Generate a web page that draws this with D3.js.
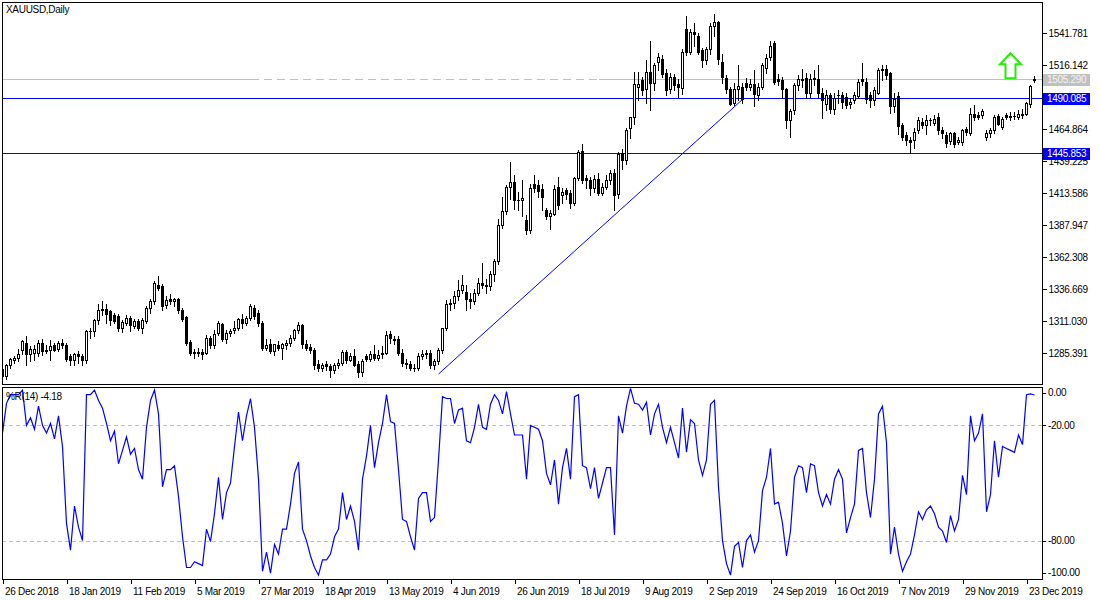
<!DOCTYPE html>
<html><head><meta charset="utf-8">
<script src="https://cdn.jsdelivr.net/npm/d3@7"></script>
<style>
body{margin:0;background:#fff}
svg{display:block}
text{font-family:"Liberation Sans",Arial,sans-serif;font-size:10px;letter-spacing:-0.3px}
</style>
</head><body>
<svg id="c" width="1100" height="600"></svg>
<script>
const dates = [
"2018-12-26","2018-12-27","2018-12-28","2018-12-31",
"2019-01-02","2019-01-03","2019-01-04","2019-01-07","2019-01-08","2019-01-09","2019-01-10","2019-01-11",
"2019-01-14","2019-01-15","2019-01-16","2019-01-17","2019-01-18","2019-01-21","2019-01-22","2019-01-23","2019-01-24","2019-01-25",
"2019-01-28","2019-01-29","2019-01-30","2019-01-31","2019-02-01",
"2019-02-04","2019-02-05","2019-02-06","2019-02-07","2019-02-08","2019-02-11","2019-02-12","2019-02-13","2019-02-14","2019-02-15",
"2019-02-18","2019-02-19","2019-02-20","2019-02-21","2019-02-22","2019-02-25","2019-02-26","2019-02-27","2019-02-28","2019-03-01",
"2019-03-04","2019-03-05","2019-03-06","2019-03-07","2019-03-08","2019-03-11","2019-03-12","2019-03-13","2019-03-14","2019-03-15",
"2019-03-18","2019-03-19","2019-03-20","2019-03-21","2019-03-22","2019-03-25","2019-03-26","2019-03-27","2019-03-28","2019-03-29",
"2019-04-01","2019-04-02","2019-04-03","2019-04-04","2019-04-05","2019-04-08","2019-04-09","2019-04-10","2019-04-11","2019-04-12",
"2019-04-15","2019-04-16","2019-04-17","2019-04-18","2019-04-22","2019-04-23","2019-04-24","2019-04-25","2019-04-26",
"2019-04-29","2019-04-30","2019-05-01","2019-05-02","2019-05-03","2019-05-06","2019-05-07","2019-05-08","2019-05-09","2019-05-10",
"2019-05-13","2019-05-14","2019-05-15","2019-05-16","2019-05-17","2019-05-20","2019-05-21","2019-05-22","2019-05-23","2019-05-24",
"2019-05-27","2019-05-28","2019-05-29","2019-05-30","2019-05-31","2019-06-03","2019-06-04","2019-06-05","2019-06-06","2019-06-07",
"2019-06-10","2019-06-11","2019-06-12","2019-06-13","2019-06-14","2019-06-17","2019-06-18","2019-06-19","2019-06-20","2019-06-21",
"2019-06-24","2019-06-25","2019-06-26","2019-06-27","2019-06-28","2019-07-01","2019-07-02","2019-07-03","2019-07-04","2019-07-05",
"2019-07-08","2019-07-09","2019-07-10","2019-07-11","2019-07-12","2019-07-15","2019-07-16","2019-07-17","2019-07-18","2019-07-19",
"2019-07-22","2019-07-23","2019-07-24","2019-07-25","2019-07-26","2019-07-29","2019-07-30","2019-07-31","2019-08-01","2019-08-02",
"2019-08-05","2019-08-06","2019-08-07","2019-08-08","2019-08-09","2019-08-12","2019-08-13","2019-08-14","2019-08-15","2019-08-16",
"2019-08-19","2019-08-20","2019-08-21","2019-08-22","2019-08-23","2019-08-26","2019-08-27","2019-08-28","2019-08-29","2019-08-30",
"2019-09-02","2019-09-03","2019-09-04","2019-09-05","2019-09-06","2019-09-09","2019-09-10","2019-09-11","2019-09-12","2019-09-13",
"2019-09-16","2019-09-17","2019-09-18","2019-09-19","2019-09-20","2019-09-23","2019-09-24","2019-09-25","2019-09-26","2019-09-27",
"2019-09-30","2019-10-01","2019-10-02","2019-10-03","2019-10-04","2019-10-07","2019-10-08","2019-10-09","2019-10-10","2019-10-11",
"2019-10-14","2019-10-15","2019-10-16","2019-10-17","2019-10-18","2019-10-21","2019-10-22","2019-10-23","2019-10-24","2019-10-25",
"2019-10-28","2019-10-29","2019-10-30","2019-10-31","2019-11-01","2019-11-04","2019-11-05","2019-11-06","2019-11-07","2019-11-08",
"2019-11-11","2019-11-12","2019-11-13","2019-11-14","2019-11-15","2019-11-18","2019-11-19","2019-11-20","2019-11-21","2019-11-22",
"2019-11-25","2019-11-26","2019-11-27","2019-11-28","2019-11-29","2019-12-02","2019-12-03","2019-12-04","2019-12-05","2019-12-06",
"2019-12-09","2019-12-10","2019-12-11","2019-12-12","2019-12-13","2019-12-16","2019-12-17","2019-12-18","2019-12-19","2019-12-20",
"2019-12-23","2019-12-24","2019-12-26"
];

const opens = [
1273,1267,1276,1280,1282,1288,1294,1285,1286,1286,1294,1288,1288,1292,1289,1294,1292,1283,1280,1285,
1283,1280,1303,1303,1312,1321,1321,1319,1316,1315,1306,1310,1313.5,1307.5,1311.5,1305.5,1311.5,1321.5,1327,1340,
1339,1324,1328.5,1327,1328.5,1320,1314.5,1294.5,1286.5,1285.5,1286.5,1286,1298,1292,1301.5,1309,1296.5,1302,1304,1306,
1313,1309.5,1314,1322,1318,1309.5,1290,1293,1287,1292,1290,1292,1293.5,1297.5,1304,1308,1293,1290.5,1288,1276.5,
1273.5,1276.5,1275,1272,1276,1277.5,1286.5,1280,1283.5,1277,1270.5,1283,1280.5,1284.5,1281.5,1285,1286,1301,1297,1296.5,
1286,1278,1277,1274,1273.5,1283.5,1285,1285.5,1276,1279,1288,1306,1324.5,1325.5,1331,1336,1334.5,1328.5,1327,1333.5,
1342,1340,1339,1349,1359,1388,1399.5,1419,1423,1408.5,1408.5,1392,1384,1421,1420,1417,1400,1395.5,1397,1419,
1412,1416,1414,1406,1426,1447.5,1426,1424,1417.5,1425,1414,1419,1424.5,1430,1413,1445.5,1440,1466,1474.5,1499,
1504,1497,1511,1502,1518.5,1521.5,1510,1497,1507,1501.5,1498,1545.5,1527,1543,1540,1528.5,1520,1529,1548,1551,
1519,1506,1497,1486,1497,1499,1502,1498.5,1501,1492.5,1499,1514,1523,1534,1505,1504,1497,1472,1480,1500,
1505,1506,1494,1506,1505.5,1494,1485,1492,1481,1492,1492,1491,1485,1488,1491.5,1505,1503,1492,1488,1494,
1512,1513.5,1510,1483.5,1491.5,1468,1460,1456,1456.5,1464,1471,1468.5,1472,1470,1475,1464.5,1460.5,1455.5,1461.5,1455,
1455,1465.5,1462,1477,1476,1476,1458.5,1462,1464.5,1475.5,1467,1476,1475,1475.5,1475,1476,1477.5,1485,1504
];
const highs = [
1274,1277,1282,1283,1289,1296,1299,1291,1292,1296,1297,1292,1296,1294,1295,1297,1294,1285,1286,1287,
1285,1304,1306,1313,1325,1327,1325,1320,1318,1317,1312,1316,1315,1313,1313,1314,1323,1329,1343,1347,
1341,1331,1333,1330,1330,1322,1315,1296,1289,1290,1289,1300,1299,1304,1311,1310,1304,1305,1311,1314,
1317,1315,1325,1324,1320,1311,1297,1297,1293,1295,1294,1296,1300,1305,1310.5,1309,1296,1293,1290,1280,
1278,1279,1277,1278,1281,1288,1288,1286,1289,1279,1281,1285,1287,1292,1288,1291,1303,1303,1299,1299,
1289,1281,1279,1277,1286,1288,1288,1288,1281,1290,1306,1328,1329,1335,1344,1348,1340,1334,1337,1346,
1358,1345,1351,1361,1393,1411,1420,1439,1428,1415,1424,1396,1421,1428,1424,1421,1402,1400,1420,1427,
1418,1418,1416,1427,1448,1453,1428,1427,1428,1430,1422,1428,1432,1433,1447,1449,1466,1475,1511,1511,
1507,1520,1535.5,1518,1526,1524,1513,1510,1509,1505,1529,1555.5,1545,1550,1542,1530,1531,1550,1557,1552,
1525,1508,1499,1502,1516,1502,1506,1505,1512.5,1502,1518,1525,1536,1536,1509,1507,1498,1481,1502,1508,
1513,1510,1509,1512,1516,1498,1496,1494,1494,1496,1495,1494,1490,1495,1505,1518,1506,1495,1499,1514,
1516,1516,1511,1494,1495,1470,1463,1459,1466,1475,1474,1476,1474,1476,1478,1467,1463,1463,1463,1459,
1465,1467,1482,1484,1479,1481,1464,1466,1476,1477,1475,1478,1479,1479,1480,1481,1487,1500.5,1507.5
];
const lows = [
1265,1265,1274,1278,1279,1285,1276,1279,1280,1283,1284,1286,1280,1287,1287,1290,1279,1276,1276,1278,
1276,1278,1298,1299,1309,1316,1310,1308,1310,1303,1302.5,1308,1303.5,1306,1304,1302,1310,1318,1325,1336,
1320,1322,1325,1323,1318,1311,1292,1284,1282,1283,1281,1285,1290,1290,1300,1295,1294,1299,1302,1304,
1306,1308,1312,1313,1307,1288,1288,1286,1284,1288,1280.5,1289,1291,1296,1302,1290,1288,1286,1272.5,1271,
1271,1272,1266.5,1270,1274,1276,1278,1279,1275,1266.5,1267,1279,1279,1280,1280,1282,1285,1294,1293,1284,
1275,1274,1272,1271,1272,1281,1282,1274,1273,1277,1286,1304,1320,1322,1328,1334,1320,1322,1325,1332,
1338,1334,1336,1343,1357,1386,1397,1409,1401,1400,1395,1381,1382,1415,1411,1400,1393,1385,1396,1401,
1406,1409,1402,1404,1424,1422,1418,1412,1415,1412,1412,1417,1421,1400,1410,1433,1437,1458,1469,1488,
1492,1486,1480,1496,1512,1507,1492,1494,1496,1491,1493,1524,1525,1532,1525,1515,1517,1525,1540,1517,
1502,1494,1484,1484,1488,1486,1496,1496,1483.5,1488,1497,1510,1520,1501,1500,1490,1466,1459,1477,1496,
1499,1490,1491,1500,1491,1474,1480,1478,1477,1486,1482,1482,1482,1486,1490,1500,1486,1483,1484,1493,
1504,1505,1478,1479,1461,1456,1452,1445.5,1450,1462,1466,1461,1468,1468,1461,1458,1451,1453,1451,1453,
1452,1460,1460,1472,1473,1474,1456,1459,1462,1468,1465,1473,1472,1473,1473,1474,1476,1483,1502.5
];
const closes = [
1267,1276,1281,1282,1285,1295,1285,1289,1289,1294,1287,1287,1291,1288,1294,1292,1281,1280,1285,1283,
1280,1303,1303,1312,1320,1320,1317,1312,1311.5,1305.5,1310.5,1314,1308,1311,1305.5,1312,1321.5,1327,1341.5,1338,
1323,1328,1327,1328.5,1320,1313,1293.5,1286,1285.5,1286.5,1285,1298,1292,1301,1309.5,1296.5,1302,1303.5,1306,1312.5,
1309.5,1314,1323,1315,1309.5,1289.5,1292,1287,1292.5,1290,1292.5,1293.5,1297.5,1304,1308,1292.5,1290,1288,1276,1273.5,
1276,1275,1272,1276,1278,1286.5,1280,1283.5,1276,1270.5,1279.5,1280.5,1284.5,1281.5,1284,1286,1300,1297.5,1296,1285.5,
1277.5,1277,1274,1273.5,1283.5,1285,1285.5,1276,1279,1288,1305.5,1324.5,1325.5,1331,1336,1340,1328.5,1327,1333.5,1342,
1340,1339,1349,1359,1388,1399.5,1418.5,1423,1408.5,1408.5,1409.5,1384,1418,1418,1415.5,1411,1395.5,1397.5,1417,1404,
1415,1413,1406,1426,1446.5,1424.5,1424,1417.5,1425,1414,1419,1424.5,1430,1412,1445,1440,1464,1474.5,1501,1501,
1496.5,1511,1502,1516,1523,1509,1496.5,1507,1500,1498.5,1527,1527,1543,1541,1527,1520,1529,1548,1551,1521,
1506.5,1497,1485,1497,1499.5,1489,1499,1501,1493,1498.5,1516,1522,1531.5,1503,1503.5,1497,1472.5,1479.5,1500.5,1505,
1504,1494,1505.5,1505,1494,1488.5,1492,1481,1490,1492.5,1487,1484,1487,1492,1503,1503.5,1489,1488,1496.5,1512.5,
1513.5,1508,1483.5,1489,1467.5,1459,1456,1455,1463,1472,1468.5,1472,1472,1473.5,1464,1461.5,1454,1461.5,1453,1456,
1464,1463,1477.5,1474.5,1475,1479.5,1462,1464.5,1474.5,1469.5,1473.5,1475,1475.5,1475.5,1477.5,1477.5,1486,1499.5,1505.3
];
const wpr = [
-24,-8.5,-4,-4,-4,-1.6,-20,-16,-22,-10,-20,-24,-19,-27,-15,-31,-71,-85,-62,-73,
-80,-4,-4,-1.6,-7,-11,-19,-28,-23,-40,-33,-26,-35,-32,-43,-48,-21,-7,-1.6,-14,
-52,-43,-43,-41,-57,-78,-94,-94,-91,-92,-93,-74,-80.5,-66,-47,-69,-55,-50,-31,-13,
-28,-15,-6,-21,-48,-96,-86,-97,-82,-87,-74,-74,-61,-45,-39,-74,-80,-88,-94,-98,
-90,-90,-87,-78,-74,-55,-69,-62,-70,-85,-48,-36,-20,-42,-29,-19,-4,-18,-19,-43,
-69,-70,-78,-85,-58,-55,-55,-70,-68,-38,-5,-6,-6,-19,-12,-11,-28,-29,-21,-9,
-21,-22,-9,-4,-7,-14,-2.4,-14,-25,-25,-25,-48,-20,-21,-22,-28,-45,-51,-38,-61,
-42,-32,-48,-5,-4,-41,-42,-53,-42,-58,-50,-42,-42,-77,-15,-24,-10,-0.7,-8.5,-9,
-12,-8,-25,-14,-9,-21,-29,-21,-29,-37,-11,-34,-17,-19,-38,-46,-38,-9,-7,-52,
-80,-92,-98,-83,-81,-94,-80,-77,-86,-80,-54,-47,-32,-61,-60,-71,-88,-75,-47,-41,
-42,-55,-40,-41,-55,-62,-56,-61,-48,-43,-48,-76,-68,-61,-33,-32,-55,-68,-48,-14,
-10,-29,-87,-73,-87,-96,-91,-87,-77,-65,-69,-64,-62,-66,-73,-75,-81,-67,-75,-69,
-46,-56,-15,-28,-24,-14,-65,-56,-28,-47,-31,-32,-33,-34,-25,-30,-4,-3.6,-4.18
];

const symbolTitle = "XAUUSD,Daily";
const priceTicks = [1541.781,1516.142,1490.503,1464.864,1439.225,1413.586,1387.947,1362.308,1336.669,1311.030,1285.391];
const wprTicks = [0,-20,-80,-100];
const wprLevels = [-20,-80];
const dateTicks = ["2018-12-26","2019-01-18","2019-02-11","2019-03-05","2019-03-27","2019-04-18","2019-05-13","2019-06-04",
"2019-06-26","2019-07-18","2019-08-09","2019-09-02","2019-09-24","2019-10-16","2019-11-07","2019-11-29","2019-12-23"];
const hLevels = [1490.085, 1445.853];
const bidPrice = 1505.290;
const trendDates = ["2019-05-30","2019-09-13"];
const trendPrices = [1268.8, 1488.8];
const arrowDate = "2019-12-17";
const arrowPrice = 1525.8;

// ---------- layout ----------
const L = 2, R = 1042;
const mainTop = 2, mainBot = 384;
const subTop = 387, subBot = 579;
const BLUE = "#0000ff", GRAY = "#c0c0c0";

const svg = d3.select("#c").attr("shape-rendering","crispEdges");
const parse = d3.timeParse("%Y-%m-%d");
const fmt = d3.timeFormat("%-d %b %Y");

const x = d3.scalePoint().domain(dates).range([2.5, 2.5 + 4*(dates.length-1)]);
const y = d3.scaleLinear().domain([1285.391, 1541.781]).range([353.3, 33.3]);
const yR = d3.scaleLinear().domain([-100, 0]).range([subBot, subTop]);

const defs = svg.append("defs");
defs.append("clipPath").attr("id","clipMain").append("rect")
  .attr("x",L+1).attr("y",mainTop+1).attr("width",R-L-1).attr("height",mainBot-mainTop-1);
defs.append("clipPath").attr("id","clipSub").append("rect")
  .attr("x",L+1).attr("y",subTop+1).attr("width",R-L-1).attr("height",subBot-subTop-1);

// ---------- main panel ----------
const gm = svg.append("g").attr("clip-path","url(#clipMain)");

// bid line (solid / dashed / solid)
const bidY = Math.round(y(bidPrice)) + 0.5;
const seg1 = x("2019-03-25"), seg2 = x("2019-07-25");
gm.append("line").attr("x1",L).attr("x2",seg1).attr("y1",bidY).attr("y2",bidY).attr("stroke",GRAY);
gm.append("line").attr("x1",seg1).attr("x2",seg2).attr("y1",bidY).attr("y2",bidY).attr("stroke",GRAY).attr("stroke-dasharray","8,5");
gm.append("line").attr("x1",seg2).attr("x2",R).attr("y1",bidY).attr("y2",bidY).attr("stroke",GRAY);

// horizontal levels
gm.selectAll("line.hl").data(hLevels).join("line").attr("class","hl")
  .attr("x1",L).attr("x2",R)
  .attr("y1",d=>Math.round(y(d))+0.5).attr("y2",d=>Math.round(y(d))+0.5)
  .attr("stroke",BLUE);

// trend line
gm.append("line")
  .attr("x1",x(trendDates[0])).attr("y1",y(trendPrices[0]))
  .attr("x2",x(trendDates[1])).attr("y2",y(trendPrices[1]))
  .attr("stroke",BLUE).attr("shape-rendering","auto").attr("stroke-width",1);

// candles
const bars = dates.map((d,i)=>({d, o:opens[i], h:highs[i], l:lows[i], c:closes[i]}));
gm.selectAll("line.wick").data(bars).join("line").attr("class","wick")
  .attr("x1",b=>x(b.d)).attr("x2",b=>x(b.d))
  .attr("y1",b=>Math.round(y(b.h))).attr("y2",b=>Math.round(y(b.l))+1)
  .attr("stroke","#000");
bars.forEach(b=>{
  const top = Math.round(y(Math.max(b.o,b.c)));
  const bot = Math.round(y(Math.min(b.o,b.c)));
  const cx = x(b.d);
  if (bot - top < 1) {
    gm.append("rect").attr("x",cx-1.5).attr("y",top).attr("width",3).attr("height",1).attr("fill","#000");
  } else if (b.c >= b.o) {
    gm.append("rect").attr("x",cx-1).attr("y",top+0.5).attr("width",2).attr("height",bot-top)
      .attr("fill","#fff").attr("stroke","#000");
  } else {
    gm.append("rect").attr("x",cx-1.5).attr("y",top).attr("width",3).attr("height",bot-top+1).attr("fill","#000");
  }
});

// green arrow object
const ax = x(arrowDate), ay = y(arrowPrice);
const arrowPts = [[0,0],[10.5,11],[5,11],[5,25],[-5,25],[-5,11],[-10.5,11]];
gm.append("polygon")
  .attr("points", arrowPts.map(p=>[ax+p[0], ay+p[1]].join(",")).join(" "))
  .attr("fill","#fff").attr("stroke","#22ee00").attr("stroke-width",2)
  .attr("shape-rendering","auto").attr("stroke-linejoin","miter");

// title
svg.append("text").attr("x",6).attr("y",13).text(symbolTitle);

// main border
svg.append("rect").attr("x",L+0.5).attr("y",mainTop+0.5).attr("width",R-L).attr("height",mainBot-mainTop)
  .attr("fill","none").attr("stroke","#000");

// price axis
const pAxis = svg.append("g").attr("transform",`translate(${R+0.5},0)`)
  .call(d3.axisRight(y).tickValues(priceTicks).tickSize(4).tickPadding(2).tickFormat(d=>d.toFixed(3)));
pAxis.select(".domain").remove();
pAxis.selectAll("text").attr("font-family",null).attr("font-size",null).attr("fill","#000");
pAxis.attr("font-family",null).attr("font-size",null);

// price tags
function tag(price, bg, fg){
  const yy = Math.round(y(price));
  const g = svg.append("g");
  g.append("rect").attr("x",R+1).attr("y",yy-5).attr("width",47).attr("height",12).attr("fill",bg);
  g.append("text").attr("x",R+5).attr("y",yy+1).attr("dy","0.32em").attr("fill",fg).text(price.toFixed(3));
}
tag(bidPrice, GRAY, "#f4f4f4");
hLevels.forEach(v=>tag(v, BLUE, "#fff"));

// ---------- %R panel ----------
const gs = svg.append("g").attr("clip-path","url(#clipSub)");
gs.selectAll("line.lvl").data(wprLevels).join("line").attr("class","lvl")
  .attr("x1",L).attr("x2",R)
  .attr("y1",d=>Math.round(yR(d))+0.5).attr("y2",d=>Math.round(yR(d))+0.5)
  .attr("stroke",GRAY).attr("stroke-dasharray","4,3");
gs.append("path").datum(wpr)
  .attr("d", d3.line().x((v,i)=>x(dates[i])).y(v=>yR(v)))
  .attr("fill","none").attr("stroke",BLUE).attr("stroke-width",1.2).attr("shape-rendering","auto");

svg.append("rect").attr("x",L+0.5).attr("y",subTop+0.5).attr("width",R-L).attr("height",subBot-subTop)
  .attr("fill","none").attr("stroke","#000");

svg.append("text").attr("x",6).attr("y",400).text(`%R(14) ${wpr[wpr.length-1].toFixed(2)}`);

// %R axis
const rLabY = v => Math.max(subTop+6, Math.min(subBot-6, yR(v)));
const rAx = svg.append("g");
rAx.selectAll("line").data(wprTicks).join("line")
  .attr("x1",R).attr("x2",R+4).attr("y1",v=>Math.round(rLabY(v))+0.5).attr("y2",v=>Math.round(rLabY(v))+0.5)
  .attr("stroke","#000");
rAx.selectAll("text").data(wprTicks).join("text")
  .attr("x",R+6).attr("y",v=>rLabY(v)).attr("dy","0.32em").text(v=>v.toFixed(2));

// date axis
const dAx = svg.append("g").attr("transform",`translate(0,${subBot+0.5})`)
  .call(d3.axisBottom(x).tickValues(dateTicks).tickSize(4).tickPadding(2).tickFormat(d=>fmt(parse(d))));
dAx.select(".domain").remove();
dAx.attr("font-family",null).attr("font-size",null);
dAx.selectAll("text").attr("text-anchor","start").attr("x",2).attr("y",8).attr("dy","0.71em").attr("fill","#000");
</script>
</body></html>
